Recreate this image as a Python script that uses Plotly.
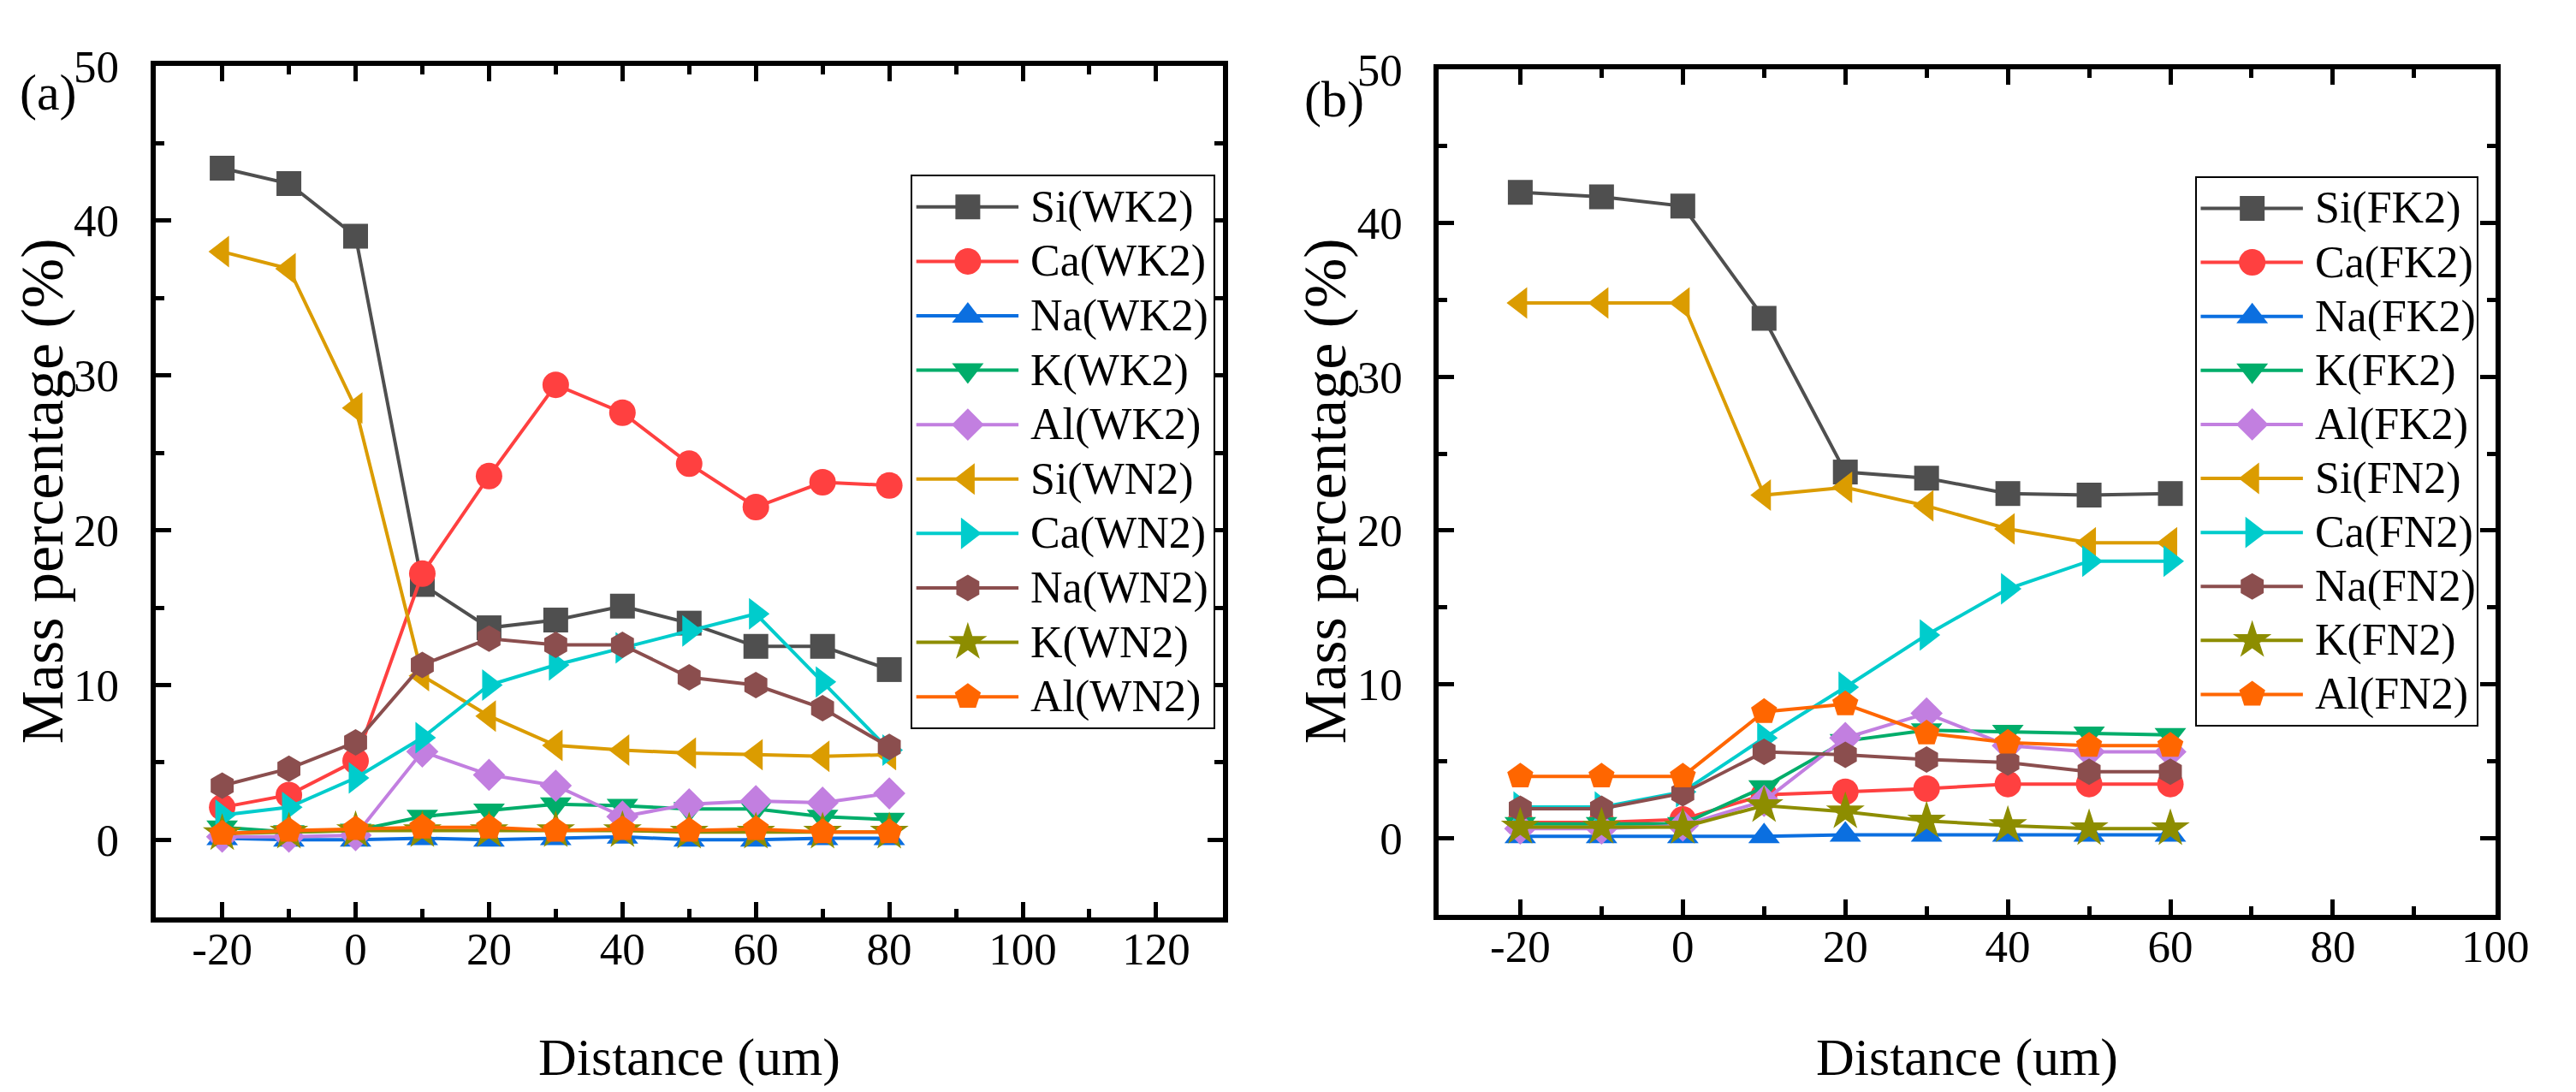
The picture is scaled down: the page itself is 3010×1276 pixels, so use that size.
import plotly.graph_objects as go

# --- Datos ---
x_a = [-20, -10, 0, 10, 20, 30, 40, 50, 60, 70, 80]
x_b = [-20, -10, 0, 10, 20, 30, 40, 50, 60]

names_a = ['Si(WK2)', 'Ca(WK2)', 'Na(WK2)', 'K(WK2)', 'Al(WK2)',
           'Si(WN2)', 'Ca(WN2)', 'Na(WN2)', 'K(WN2)', 'Al(WN2)']
names_b = ['Si(FK2)', 'Ca(FK2)', 'Na(FK2)', 'K(FK2)', 'Al(FK2)',
           'Si(FN2)', 'Ca(FN2)', 'Na(FN2)', 'K(FN2)', 'Al(FN2)']

si_wk2 = [43.4, 42.4, 39.0, 16.5, 13.7, 14.2, 15.1, 14.0, 12.5, 12.5, 11.0]
ca_wk2 = [2.1, 2.9, 5.1, 17.2, 23.5, 29.4, 27.6, 24.3, 21.5, 23.1, 22.9]
na_wk2 = [0.1, 0.0, 0.0, 0.1, 0.0, 0.1, 0.2, 0.0, 0.0, 0.1, 0.1]
k_wk2 = [0.8, 0.5, 0.6, 1.5, 1.9, 2.3, 2.2, 2.0, 2.0, 1.5, 1.3]
al_wk2 = [0.2, 0.2, 0.3, 5.7, 4.2, 3.5, 1.5, 2.3, 2.5, 2.4, 3.0]
si_wn2 = [38.0, 36.9, 27.9, 10.6, 8.0, 6.1, 5.8, 5.6, 5.5, 5.4, 5.5]
ca_wn2 = [1.6, 2.1, 4.0, 6.6, 10.0, 11.3, 12.4, 13.5, 14.6, 10.2, 5.8]
na_wn2 = [3.5, 4.6, 6.3, 11.3, 13.0, 12.6, 12.6, 10.5, 10.0, 8.5, 6.0]
k_wn2 = [0.4, 0.5, 0.6, 0.6, 0.6, 0.6, 0.6, 0.5, 0.5, 0.5, 0.5]
al_wn2 = [0.4, 0.6, 0.7, 0.8, 0.8, 0.6, 0.7, 0.6, 0.7, 0.5, 0.5]

si_fk2 = [42.0, 41.7, 41.1, 33.8, 23.8, 23.4, 22.4, 22.3, 22.4]
ca_fk2 = [1.0, 1.0, 1.2, 2.8, 3.0, 3.2, 3.5, 3.5, 3.5]
na_fk2 = [0.1, 0.1, 0.1, 0.1, 0.2, 0.2, 0.2, 0.2, 0.2]
k_fk2 = [0.9, 0.9, 0.9, 3.3, 6.3, 7.0, 6.9, 6.8, 6.7]
al_fk2 = [0.6, 0.6, 0.8, 2.4, 6.5, 8.1, 6.0, 5.6, 5.6]
si_fn2 = [34.8, 34.8, 34.8, 22.3, 22.8, 21.6, 20.1, 19.2, 19.2]
ca_fn2 = [2.0, 2.0, 3.0, 6.5, 9.8, 13.2, 16.2, 18.0, 18.0]
na_fn2 = [1.9, 1.9, 2.9, 5.6, 5.4, 5.1, 4.9, 4.3, 4.3]
k_fn2 = [0.7, 0.7, 0.7, 2.1, 1.7, 1.1, 0.8, 0.6, 0.6]
al_fn2 = [4.0, 4.0, 4.0, 8.2, 8.7, 6.8, 6.2, 6.0, 6.0]

series_a = [si_wk2, ca_wk2, na_wk2, k_wk2, al_wk2, si_wn2, ca_wn2, na_wn2, k_wn2, al_wn2]
series_b = [si_fk2, ca_fk2, na_fk2, k_fk2, al_fk2, si_fn2, ca_fn2, na_fn2, k_fn2, al_fn2]

# --- Ticks ---
xticks_a = [-20, 0, 20, 40, 60, 80, 100, 120]
xminor_a = [-30, -10, 10, 30, 50, 70, 90, 110, 130]
xticks_b = [-20, 0, 20, 40, 60, 80, 100]
xminor_b = [-30, -10, 10, 30, 50, 70, 90]
yticks = [0, 10, 20, 30, 40, 50]
yminor = [-5, 5, 15, 25, 35, 45]

# --- Estilo (Origin) ---
colors = ['#4f4f4f', '#ff4040', '#0b6fe0', '#00ad6a', '#c27fe0',
          '#db9c00', '#00cccc', '#8b4e4e', '#8d8d00', '#ff6600']
symbols = ['square', 'circle', 'triangle-up', 'triangle-down', 'diamond',
           'triangle-left', 'triangle-right', 'hexagon', 'star', 'pentagon']
msizes = [29, 31, 32, 32, 29, 32, 32, 31, 34, 32]
FONT = 'Liberation Serif'
W, H = 3010, 1276
OFF = 8  # margen del body de la pagina html


def px(p):
    return (p - OFF) / W


def py(p):
    return 1 - (p - OFF) / H


fig = go.Figure()

# Paneles principales
for xs, series, names, xa, ya in [(x_a, series_a, names_a, 'x', 'y'),
                                  (x_b, series_b, names_b, 'x2', 'y2')]:
    for i, ys in enumerate(series):
        fig.add_trace(go.Scatter(
            x=xs, y=ys, name=names[i], mode='lines+markers',
            line=dict(color=colors[i], width=4),
            marker=dict(symbol=symbols[i], size=msizes[i], color=colors[i],
                        opacity=1, line=dict(width=0)),
            xaxis=xa, yaxis=ya, showlegend=False,
            hovertemplate='%{x} um<br>%{y:.1f}%<extra>' + names[i] + '</extra>'
        ))

# Leyendas dibujadas a mano (ejes en pixeles dentro de la caja)
leg_boxes = [  # (eje x, eje y, x0, x1, y0, y1) en pixeles de la imagen
    ('x3', 'y3', 1080, 1437, 182, 840),
    ('x4', 'y4', 2601, 2933, 184, 837),
]
KEY_L, KEY_M, KEY_R, TXT = 5, 66, 126, 138
rows = list(range(len(names_a)))
pad = 0.56

for (xa, ya, x0, x1, y0, y1), names in zip(leg_boxes, [names_a, names_b]):
    wbox = x1 - x0
    fig.add_shape(type='rect', xref=xa, yref=ya, x0=0, x1=wbox,
                  y0=-pad, y1=rows[-1] + pad, fillcolor='white',
                  line=dict(width=0), layer='below')
    for i, nm in enumerate(names):
        fig.add_trace(go.Scatter(
            x=[KEY_L, KEY_R], y=[rows[i]] * 2, mode='lines',
            line=dict(color=colors[i], width=4),
            xaxis=xa, yaxis=ya, showlegend=False, hoverinfo='skip'
        ))
        fig.add_trace(go.Scatter(
            x=[KEY_M], y=[rows[i]], mode='markers',
            marker=dict(symbol=symbols[i], size=msizes[i], color=colors[i],
                        opacity=1, line=dict(width=0)),
            xaxis=xa, yaxis=ya, showlegend=False, hoverinfo='skip'
        ))
        fig.add_annotation(x=TXT, y=rows[i], xref=xa, yref=ya, text=nm,
                           showarrow=False, xanchor='left', yanchor='middle',
                           font=dict(family=FONT, size=52, color='black'))

axis_common = dict(showgrid=False, zeroline=False, showline=True,
                   linecolor='black', linewidth=6, mirror='allticks',
                   ticks='inside', ticklen=18, tickwidth=5, tickcolor='black',
                   tickfont=dict(family=FONT, size=53, color='black'))


def minor(vals):
    return dict(tickmode='array', tickvals=vals, ticks='inside',
                ticklen=10, tickwidth=5, tickcolor='black')


def box_axis(domain, rng):
    return dict(domain=domain, range=rng, showline=True, mirror=True,
                linecolor='black', linewidth=2, showgrid=False,
                zeroline=False, showticklabels=False, ticks='',
                fixedrange=True)


fig.update_layout(
    width=W, height=H,
    margin=dict(l=0, r=0, t=0, b=0),
    paper_bgcolor='white', plot_bgcolor='white',
    font=dict(family=FONT, color='black'),
    showlegend=False,
    xaxis=dict(axis_common, domain=[px(184), px(1448)], range=[-30, 130],
               tickmode='array', tickvals=xticks_a,
               ticktext=[str(v) for v in xticks_a], minor=minor(xminor_a),
               ticklabelstandoff=-14, anchor='y'),
    yaxis=dict(axis_common, domain=[py(1067), py(50)], range=[-5, 50],
               tickmode='array', tickvals=yticks,
               ticktext=[str(v) for v in yticks], minor=minor(yminor),
               ticklabelstandoff=26, anchor='x'),
    xaxis2=dict(axis_common, domain=[px(1704), px(2955)], range=[-30, 100],
                tickmode='array', tickvals=xticks_b,
                ticktext=[str(v) for v in xticks_b], minor=minor(xminor_b),
                ticklabelstandoff=-14, anchor='y2'),
    yaxis2=dict(axis_common, domain=[py(1064), py(54)], range=[-5, 50],
                tickmode='array', tickvals=yticks,
                ticktext=[str(v) for v in yticks], minor=minor(yminor),
                ticklabelstandoff=26, anchor='x2'),
    xaxis3=dict(box_axis([px(1080), px(1437)], [0, 1437 - 1080]), anchor='y3'),
    yaxis3=dict(box_axis([py(840), py(182)], [rows[-1] + pad, -pad]),
                anchor='x3'),
    xaxis4=dict(box_axis([px(2601), px(2933)], [0, 2933 - 2601]), anchor='y4'),
    yaxis4=dict(box_axis([py(837), py(184)], [rows[-1] + pad, -pad]),
                anchor='x4'),
)

# Titulos de ejes y etiquetas de panel
for cx in [(184 + 1448) / 2, (1704 + 2955) / 2]:
    fig.add_annotation(x=px(cx), y=py(1234), xref='paper', yref='paper',
                       text='Distance (um)', showarrow=False,
                       xanchor='center', yanchor='middle',
                       font=dict(family=FONT, size=62, color='black'))
for cx in [50, 1570]:
    fig.add_annotation(x=px(cx), y=py(558), xref='paper', yref='paper',
                       text='Mass percentage (%)', showarrow=False,
                       textangle=-90, xanchor='center', yanchor='middle',
                       font=dict(family=FONT, size=70, color='black'))
for txt, cx, cy in [('(a)', 57, 82), ('(b)', 1580, 90)]:
    fig.add_annotation(x=px(cx), y=py(cy), xref='paper', yref='paper',
                       text=txt, showarrow=False, xanchor='center',
                       yanchor='middle',
                       font=dict(family=FONT, size=60, color='black'))

fig.write_html('out.html')
print('ok')
